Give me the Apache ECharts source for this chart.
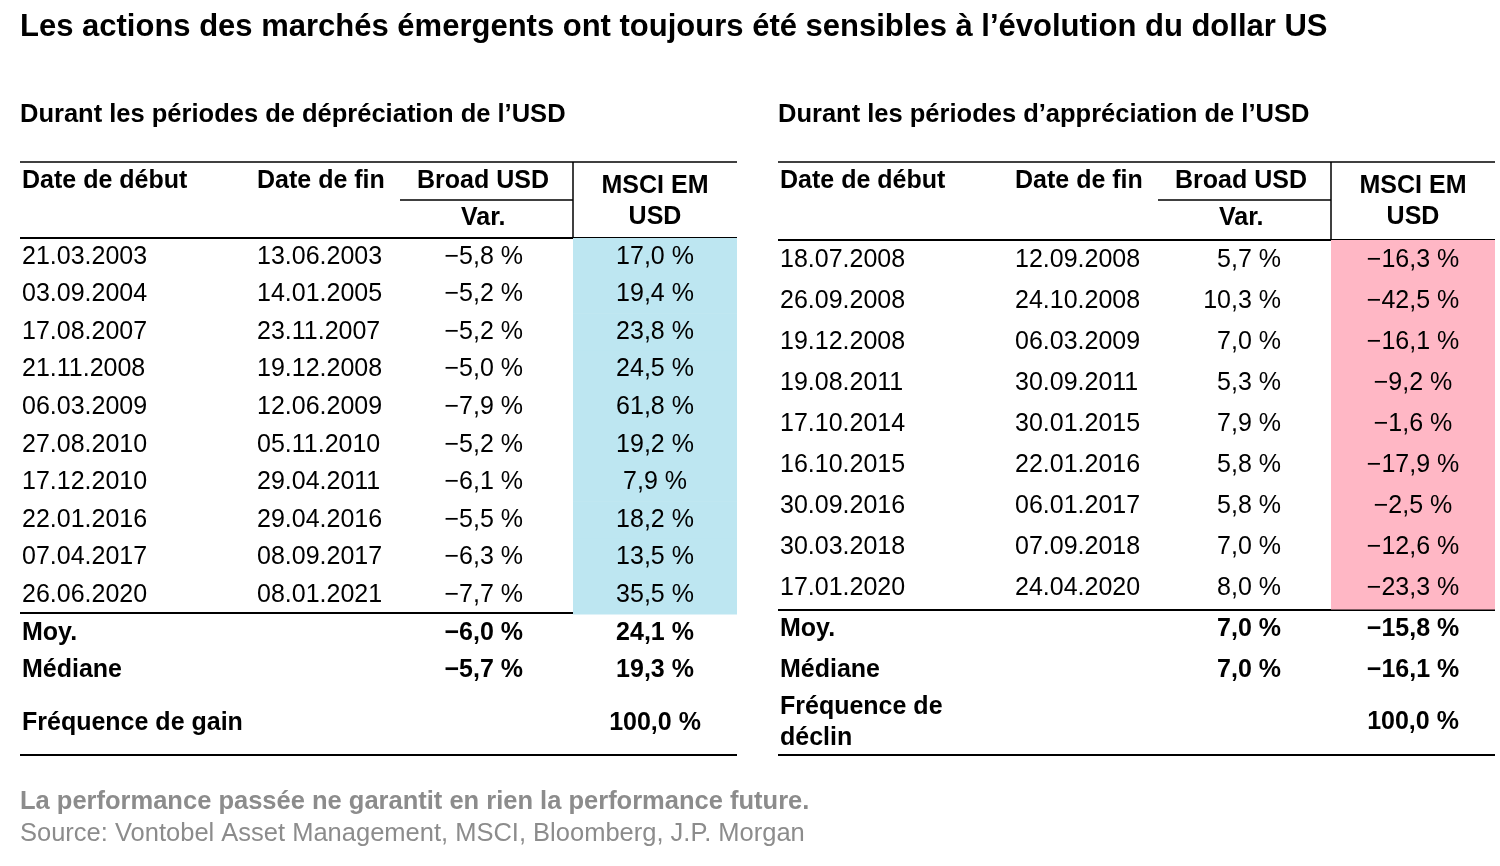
<!DOCTYPE html>
<html><head><meta charset="utf-8">
<script src="https://cdn.jsdelivr.net/npm/echarts@6/dist/echarts.min.js"></script>
<style>html,body{margin:0;padding:0;background:#fff}#c{width:1500px;height:866px}</style>
</head><body><div id="c"></div>
<script>
// dépréciation de l'USD
const depStart = ['21.03.2003','03.09.2004','17.08.2007','21.11.2008','06.03.2009','27.08.2010','17.12.2010','22.01.2016','07.04.2017','26.06.2020']
const depEnd = ['13.06.2003','14.01.2005','23.11.2007','19.12.2008','12.06.2009','05.11.2010','29.04.2011','29.04.2016','08.09.2017','08.01.2021']
const depUsd = [-5.8, -5.2, -5.2, -5.0, -7.9, -5.2, -6.1, -5.5, -6.3, -7.7]
const depEm = [17.0, 19.4, 23.8, 24.5, 61.8, 19.2, 7.9, 18.2, 13.5, 35.5]
const depSummary = [['Moy.', -6.0, 24.1], ['Médiane', -5.7, 19.3], ['Fréquence de gain', null, 100.0]]
// appréciation de l'USD
const appStart = ['18.07.2008','26.09.2008','19.12.2008','19.08.2011','17.10.2014','16.10.2015','30.09.2016','30.03.2018','17.01.2020']
const appEnd = ['12.09.2008','24.10.2008','06.03.2009','30.09.2011','30.01.2015','22.01.2016','06.01.2017','07.09.2018','24.04.2020']
const appUsd = [5.7, 10.3, 7.0, 5.3, 7.9, 5.8, 5.8, 7.0, 8.0]
const appEm = [-16.3, -42.5, -16.1, -9.2, -1.6, -17.9, -2.5, -12.6, -23.3]
const appSummary = [['Moy.', 7.0, -15.8], ['Médiane', 7.0, -16.1], ['Fréquence de\ndéclin', null, 100.0]]

const FONT = 'Liberation Sans, Arial, sans-serif'
const fmt = v => v == null ? '' : v.toFixed(1).replace('.', ',').replace('-', '\u2212') + ' %'

// lignes du tableau : [label1, label2, usd, em, estDonnée, gras]
function buildRows(start, end, usd, em, summary) {
    let rows = start.map((s, i) => [s, end[i], fmt(usd[i]), fmt(em[i]), 1, 0])
    summary.forEach(r => rows.push([r[0], '', fmt(r[1]), fmt(r[2]), 0, 1]))
    return rows
}
const leftRows = buildRows(depStart, depEnd, depUsd, depEm, depSummary)
const rightRows = buildRows(appStart, appEnd, appUsd, appEm, appSummary)

// positions des colonnes en px relatifs à la grille (largeur 717)
const cols = { c1: 2, c2: 237, usdRight: 503, emLeft: 553, emCenter: 635 }

function makeRender(rows, fill, lastOffset) {
    return function (params, api) {
        const i = api.value(0)
        const r = rows[i]
        const p = api.coord([0, i])
        const h = api.size([0, 1])[1]
        const x0 = p[0]
        const y = p[1] + (i === rows.length - 1 ? lastOffset : 0)
        const weight = r[5] ? 'bold' : 'normal'
        const t = (x, text, align) => ({
            type: 'text', x: x0 + x, y: y,
            style: { text: text, font: weight + ' 25px ' + FONT, fill: '#000', textAlign: align, textVerticalAlign: 'middle', lineHeight: 31 }
        })
        const children = []
        if (r[4]) children.push({ type: 'rect', shape: { x: x0 + cols.emLeft, y: p[1] - h / 2, width: 717 - cols.emLeft, height: h + 0.5 }, style: { fill: fill } })
        children.push(t(cols.c1, r[0], 'left'), t(cols.c2, r[1], 'left'), t(cols.usdRight, r[2], 'right'), t(cols.emCenter, r[3], 'center'))
        return { type: 'group', children: children }
    }
}

const chart = echarts.init(document.getElementById('c'))
const xAx = i => ({ type: 'value', gridIndex: i, min: 0, max: 717, show: false })
const yAx = (i, rows) => ({ type: 'category', gridIndex: i, inverse: true, data: rows.map((r, k) => k), show: false })

function header(x, yTop, yBot) {
    const hs = { font: 'bold 25px ' + FONT, fill: '#000' }
    return [
        { type: 'text', left: x + 2, top: 169, style: Object.assign({ text: 'Date de début' }, hs) },
        { type: 'text', left: x + 237, top: 169, style: Object.assign({ text: 'Date de fin' }, hs) },
        { type: 'text', left: x + 397, top: 169, style: Object.assign({ text: 'Broad USD' }, hs) },
        { type: 'text', left: x + 441, top: 206, style: Object.assign({ text: 'Var.' }, hs) },
        { type: 'text', x: x + 635, y: 202, style: Object.assign({ text: 'MSCI EM\nUSD', textAlign: 'center', textVerticalAlign: 'middle', lineHeight: 31 }, hs) },
        { type: 'line', shape: { x1: x, y1: 162, x2: x + 717, y2: 162 }, style: { stroke: '#000', lineWidth: 1.5 } },
        { type: 'line', shape: { x1: x + 380, y1: 200, x2: x + 553, y2: 200 }, style: { stroke: '#000', lineWidth: 1.5 } },
        { type: 'line', shape: { x1: x + 553, y1: 162, x2: x + 553, y2: yTop }, style: { stroke: '#000', lineWidth: 1.5 } },
        { type: 'line', shape: { x1: x, y1: yTop, x2: x + 717, y2: yTop }, style: { stroke: '#000', lineWidth: 2 } },
        { type: 'line', shape: { x1: x, y1: yBot, x2: x + 717, y2: yBot }, style: { stroke: '#000', lineWidth: 2 } },
        { type: 'line', shape: { x1: x, y1: 755, x2: x + 717, y2: 755 }, style: { stroke: '#000', lineWidth: 2 } }
    ]
}

chart.setOption({
    animation: false,
    grid: [
        { left: 20, width: 717, top: 238, height: 13 * 37.6 },
        { left: 778, width: 717, top: 240, height: 12 * 41 }
    ],
    xAxis: [xAx(0), xAx(1)],
    yAxis: [yAx(0, leftRows), yAx(1, rightRows)],
    series: [
        { type: 'custom', xAxisIndex: 0, yAxisIndex: 0, data: leftRows.map((r, k) => [k]), renderItem: makeRender(leftRows, '#bde6f1', 15) },
        { type: 'custom', xAxisIndex: 1, yAxisIndex: 1, data: rightRows.map((r, k) => [k]), renderItem: makeRender(rightRows, '#ffb7c5', 11) }
    ],
    graphic: [
        { type: 'text', left: 20, top: 12, style: { text: 'Les actions des marchés émergents ont toujours été sensibles à l\u2019évolution du dollar US', font: 'bold 31px ' + FONT, fill: '#000' } },
        { type: 'text', left: 20, top: 102, style: { text: 'Durant les périodes de dépréciation de l\u2019USD', font: 'bold 25.5px ' + FONT, fill: '#000' } },
        { type: 'text', left: 778, top: 102, style: { text: 'Durant les périodes d\u2019appréciation de l\u2019USD', font: 'bold 25.5px ' + FONT, fill: '#000' } },
        { type: 'text', left: 20, top: 789, style: { text: 'La performance passée ne garantit en rien la performance future.', font: 'bold 25.5px ' + FONT, fill: '#8c8c8c' } },
        { type: 'text', left: 20, top: 821, style: { text: 'Source: Vontobel Asset Management, MSCI, Bloomberg, J.P. Morgan', font: '25.5px ' + FONT, fill: '#8c8c8c' } }
    ].concat(header(20, 238, 613), header(778, 240, 610))
})
</script>
</body></html>
